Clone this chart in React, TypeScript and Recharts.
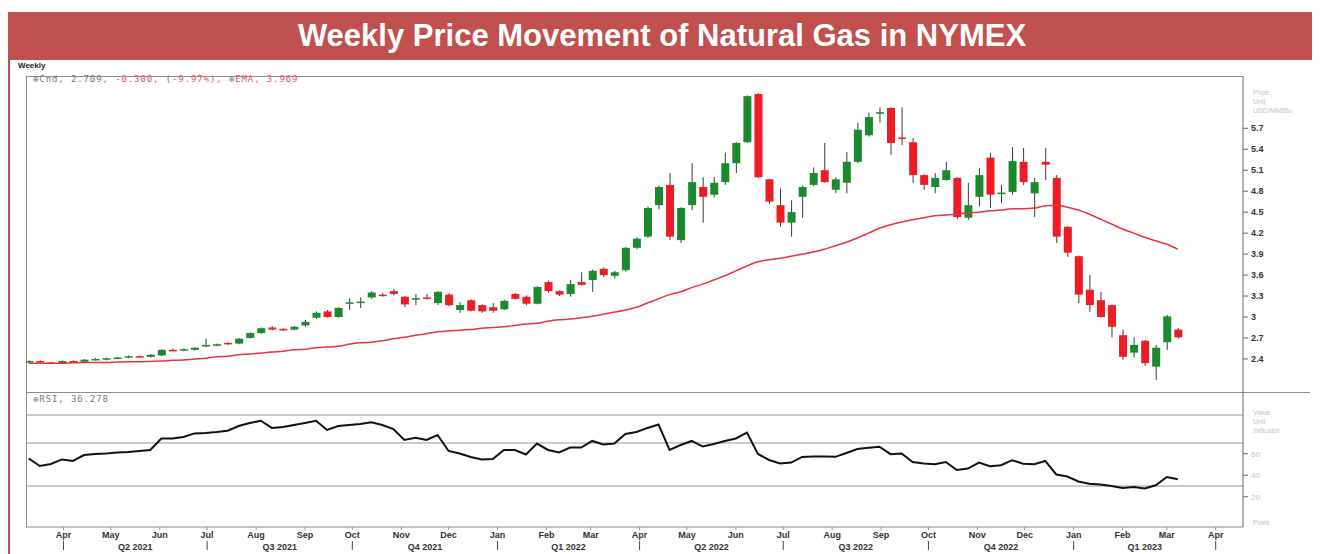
import { ComposedChart, Bar, Line, XAxis, YAxis, ReferenceLine } from 'recharts';

// weekly bars, first bar dated startDate
const startDate = '2021-03-10';

const opens = [
  2.35, 2.37, 2.35, 2.34, 2.37, 2.36, 2.39, 2.40, 2.41, 2.42,
  2.44, 2.43, 2.45, 2.53, 2.52, 2.53, 2.59, 2.60, 2.63, 2.62,
  2.70, 2.77, 2.85, 2.83, 2.82, 2.88, 2.99, 3.08, 3.00, 3.20,
  3.21, 3.28, 3.32, 3.37, 3.29, 3.25, 3.28, 3.20, 3.32, 3.10,
  3.24, 3.17, 3.14, 3.11, 3.33, 3.29, 3.19, 3.50, 3.37, 3.33,
  3.50, 3.53, 3.69, 3.59, 3.67, 3.99, 4.15, 4.60, 4.89, 4.10,
  4.60, 4.86, 4.75, 4.93, 5.20, 5.50, 6.19, 4.97, 4.60, 4.35,
  4.72, 4.89, 5.10, 4.82, 4.92, 5.22, 5.60, 5.91, 5.99, 5.57,
  5.50, 5.03, 4.86, 4.96, 4.99, 4.42, 4.72, 5.28, 4.76, 4.79,
  5.22, 4.77, 5.22, 4.99, 4.29, 3.87, 3.39, 3.24, 3.17, 2.74,
  2.49, 2.66, 2.29, 2.64, 2.82,
];
const highs = [
  2.38, 2.38, 2.36, 2.38, 2.38, 2.40, 2.41, 2.42, 2.43, 2.45,
  2.45, 2.47, 2.54, 2.55, 2.55, 2.57, 2.69, 2.62, 2.64, 2.70,
  2.78, 2.85, 2.87, 2.84, 2.87, 2.96, 3.08, 3.10, 3.14, 3.27,
  3.28, 3.37, 3.34, 3.40, 3.30, 3.33, 3.33, 3.37, 3.34, 3.21,
  3.25, 3.18, 3.20, 3.25, 3.34, 3.31, 3.44, 3.52, 3.38, 3.53,
  3.64, 3.68, 3.71, 3.66, 4.00, 4.14, 4.58, 4.88, 5.06, 4.57,
  5.20, 5.00, 5.00, 5.35, 5.50, 6.17, 6.20, 4.98, 4.84, 4.67,
  4.88, 5.14, 5.49, 5.00, 5.36, 5.78, 5.92, 6.00, 6.00, 6.00,
  5.56, 5.04, 5.06, 5.22, 5.00, 4.92, 5.13, 5.35, 4.89, 5.43,
  5.42, 4.99, 5.42, 5.03, 4.30, 3.88, 3.60, 3.36, 3.18, 2.82,
  2.71, 2.67, 2.60, 3.03, 2.84,
];
const lows = [
  2.34, 2.34, 2.33, 2.33, 2.34, 2.35, 2.38, 2.38, 2.40, 2.41,
  2.42, 2.42, 2.44, 2.51, 2.51, 2.52, 2.57, 2.58, 2.60, 2.61,
  2.69, 2.76, 2.81, 2.80, 2.81, 2.86, 2.97, 2.99, 2.99, 3.10,
  3.13, 3.26, 3.29, 3.31, 3.14, 3.17, 3.25, 3.17, 3.15, 3.06,
  3.08, 3.06, 3.06, 3.10, 3.25, 3.17, 3.18, 3.35, 3.30, 3.29,
  3.45, 3.36, 3.57, 3.55, 3.65, 3.97, 4.13, 4.54, 4.10, 4.06,
  4.53, 4.35, 4.71, 4.89, 5.06, 5.49, 4.99, 4.62, 4.29, 4.15,
  4.42, 4.87, 4.92, 4.77, 4.77, 5.20, 5.58, 5.78, 5.32, 5.46,
  4.92, 4.82, 4.77, 4.95, 4.40, 4.39, 4.58, 4.56, 4.63, 4.75,
  4.89, 4.43, 4.96, 4.06, 3.86, 3.20, 3.07, 2.99, 2.71, 2.39,
  2.42, 2.30, 2.10, 2.53, 2.69,
];
const closes = [
  2.37, 2.35, 2.34, 2.37, 2.36, 2.39, 2.40, 2.41, 2.42, 2.44,
  2.43, 2.46, 2.53, 2.52, 2.54, 2.56, 2.60, 2.61, 2.61, 2.69,
  2.77, 2.84, 2.82, 2.81, 2.86, 2.93, 3.06, 3.00, 3.13, 3.21,
  3.22, 3.35, 3.31, 3.33, 3.18, 3.27, 3.26, 3.36, 3.17, 3.17,
  3.09, 3.08, 3.09, 3.23, 3.26, 3.19, 3.43, 3.37, 3.32, 3.47,
  3.46, 3.66, 3.60, 3.64, 3.99, 4.12, 4.56, 4.86, 4.15, 4.56,
  4.93, 4.72, 4.92, 5.20, 5.49, 6.16, 5.00, 4.65, 4.35, 4.50,
  4.86, 5.06, 4.93, 4.97, 5.22, 5.68, 5.86, 5.93, 5.49, 5.55,
  5.03, 4.89, 4.99, 5.10, 4.43, 4.60, 5.03, 4.75, 4.78, 5.23,
  4.93, 4.93, 5.18, 4.15, 3.92, 3.32, 3.17, 3.00, 2.86, 2.43,
  2.60, 2.34, 2.56, 3.009, 2.709,
];
const ema = [
  2.34, 2.34, 2.34, 2.34, 2.345, 2.35, 2.35, 2.35, 2.355, 2.36,
  2.36, 2.365, 2.37, 2.38, 2.385, 2.40, 2.41, 2.43, 2.44, 2.46,
  2.47, 2.485, 2.50, 2.51, 2.53, 2.54, 2.56, 2.57, 2.58, 2.61,
  2.63, 2.64, 2.66, 2.69, 2.71, 2.74, 2.76, 2.79, 2.80, 2.81,
  2.82, 2.84, 2.85, 2.86, 2.88, 2.90, 2.91, 2.94, 2.96, 2.97,
  2.99, 3.01, 3.04, 3.07, 3.10, 3.14, 3.20, 3.26, 3.32, 3.36,
  3.42, 3.47, 3.53, 3.59, 3.66, 3.73, 3.79, 3.82, 3.84, 3.87,
  3.90, 3.93, 3.97, 4.02, 4.07, 4.13, 4.20, 4.27, 4.32, 4.36,
  4.39, 4.42, 4.45, 4.46, 4.47, 4.49, 4.50, 4.52, 4.53, 4.55,
  4.55, 4.56, 4.59, 4.60, 4.57, 4.53, 4.47, 4.40, 4.33, 4.26,
  4.20, 4.14, 4.09, 4.04, 3.969,
];
const rsi = [
  55.6, 48.6, 50.5, 54.7, 53.3, 58.8, 59.8, 60.2, 61.2, 61.6,
  62.6, 63.5, 74.2, 74.2, 75.6, 78.9, 79.3, 80.2, 81.4, 85.8,
  88.6, 90.7, 84.0, 84.9, 86.7, 88.6, 90.7, 82.1, 85.8, 86.7,
  87.7, 89.2, 86.7, 83.0, 72.8, 74.8, 72.8, 77.4, 62.6, 60.2,
  57.0, 54.7, 55.1, 63.5, 63.5, 59.3, 69.5, 63.5, 61.2, 65.8,
  65.8, 71.9, 68.6, 69.5, 78.4, 80.2, 84.0, 87.2, 63.5, 68.1,
  71.9, 66.7, 69.1, 71.9, 74.2, 79.6, 59.8, 54.2, 50.9, 51.8,
  57.0, 57.5, 57.4, 57.1, 60.7, 64.4, 65.5, 66.5, 59.6, 60.2,
  52.3, 50.9, 50.3, 52.3, 44.9, 46.2, 51.8, 48.4, 49.3, 54.0,
  50.8, 50.3, 53.3, 40.7, 38.8, 34.2, 32.1, 31.4, 30.0, 28.1,
  29.1, 27.7, 30.7, 38.4, 36.278,
];

const monthDates = [
  '2021-04-01', '2021-05-01', '2021-06-01', '2021-07-01', '2021-08-01', '2021-09-01',
  '2021-10-01', '2021-11-01', '2021-12-01', '2022-01-01', '2022-02-01', '2022-03-01',
  '2022-04-01', '2022-05-01', '2022-06-01', '2022-07-01', '2022-08-01', '2022-09-01',
  '2022-10-01', '2022-11-01', '2022-12-01', '2023-01-01', '2023-02-01', '2023-03-01',
  '2023-04-01',
];
const monthNames = [
  'Apr', 'May', 'Jun', 'Jul', 'Aug', 'Sep', 'Oct', 'Nov', 'Dec', 'Jan', 'Feb', 'Mar',
  'Apr', 'May', 'Jun', 'Jul', 'Aug', 'Sep', 'Oct', 'Nov', 'Dec', 'Jan', 'Feb', 'Mar',
  'Apr',
];
const quarterNames = ['Q2 2021', 'Q3 2021', 'Q4 2021', 'Q1 2022', 'Q2 2022', 'Q3 2022', 'Q4 2022', 'Q1 2023'];

const priceTicks = [2.4, 2.7, 3, 3.3, 3.6, 3.9, 4.2, 4.5, 4.8, 5.1, 5.4, 5.7];
const rsiTicks = [20, 40, 60];
const rsiLevels = [30, 70, 96];

const GREEN = '#1b8a2f';
const RED = '#ee1c25';
const FRAME = '#c0504d';

const WEEK = 7 * 24 * 3600 * 1000;
const t0 = Date.parse(startDate);
const wk = (d: string) => (Date.parse(d) - t0) / WEEK;

const data = opens.map((o, i) => ({
  x: i,
  range: [lows[i], highs[i]],
  o, h: highs[i], l: lows[i], c: closes[i],
  ema: ema[i],
  rsi: rsi[i],
}));

const xTicks = [
  ...monthDates.map((d, i) => ({ value: wk(d), label: monthNames[i], kind: 'm', qStart: i % 3 === 0 })),
  ...quarterNames.map((q, i) => ({
    value: (wk(monthDates[i * 3]) + wk(monthDates[i * 3 + 3])) / 2, label: q, kind: 'q', qStart: false,
  })),
];

const X_DOMAIN: [number, number] = [-0.25, 109.9];

function Candle(props: any) {
  const { x, y, width, height, payload } = props;
  if (!payload) return null;
  const { o, h, l, c } = payload;
  const top = Math.min(y, y + height);
  const bot = Math.max(y, y + height);
  const k = h > l ? (bot - top) / (h - l) : 0;
  const py = (v: number) => top + (h - v) * k;
  const cx = x + width / 2;
  const bodyTop = py(Math.max(o, c));
  const bodyH = Math.max(1.5, py(Math.min(o, c)) - bodyTop);
  return (
    <g>
      <line x1={cx} x2={cx} y1={top} y2={bot} stroke="#3a3a3a" strokeWidth={1} />
      <rect x={x} y={bodyTop} width={width} height={bodyH} fill={c >= o ? GREEN : RED} />
    </g>
  );
}

function MonthTick(props: any) {
  const { x, y, payload } = props;
  const t = xTicks.find((tk) => Math.abs(tk.value - payload.value) < 1e-6);
  if (!t) return null;
  const font = { fontFamily: 'Liberation Sans, Arial, sans-serif', fontSize: 9, fontWeight: 700, fill: '#333' };
  if (t.kind === 'q') {
    return <text x={x} y={y + 23} textAnchor="middle" {...font}>{t.label}</text>;
  }
  return (
    <g>
      <line x1={x} x2={x} y1={y} y2={y + 3} stroke="#999" />
      <text x={x} y={y + 11} textAnchor="middle" {...font}>{t.label}</text>
      {t.qStart && <line x1={x} x2={x} y1={y + 14} y2={y + 23} stroke="#444" />}
    </g>
  );
}

const hLine = (left: number, top: number, width: number, color = '#8c8c8c') => (
  <div style={{ position: 'absolute', left, top, width, height: 1, background: color }} />
);

export default function App() {
  const faint = { position: 'absolute' as const, fontSize: 7, color: '#c4c4c4', lineHeight: '9px' };
  return (
    <div style={{ position: 'relative', width: 1312, height: 546, fontFamily: 'Liberation Sans, Arial, sans-serif' }}>
      {/* red frame + title */}
      <div style={{
        position: 'absolute', left: 0, top: 4, width: 1308, height: 600, boxSizing: 'border-box',
        borderLeft: `2px solid ${FRAME}`, borderRight: `3px solid ${FRAME}`, background: '#fff',
      }} />
      <div style={{
        position: 'absolute', left: 0, top: 4, width: 1308, height: 48, background: FRAME, color: '#fff',
        fontWeight: 700, fontSize: 31, lineHeight: '48px', textAlign: 'center',
      }}>
        Weekly Price Movement of Natural Gas in NYMEX
      </div>

      <div style={{ position: 'absolute', left: 10, top: 53, fontSize: 8, fontWeight: 700, color: '#222' }}>Weekly</div>

      {/* panel borders */}
      {hLine(18, 68, 1217)}
      <div style={{ position: 'absolute', left: 18, top: 68, width: 1, height: 451, background: '#8c8c8c' }} />
      {hLine(18, 384, 1284)}

      <div style={{
        position: 'absolute', left: 25, top: 66, fontFamily: 'DejaVu Sans Mono, monospace', fontSize: 9,
        letterSpacing: 0.9, whiteSpace: 'nowrap',
      }}>
        <span style={{ color: '#777' }}>⊕Cnd, 2.709, </span>
        <span style={{ color: '#e8506a' }}>-0.300, (-9.97%), </span>
        <span style={{ color: '#777' }}>⊕</span>
        <span style={{ color: '#e8506a' }}>EMA, 3.969</span>
      </div>
      <div style={{
        position: 'absolute', left: 25, top: 386, fontFamily: 'DejaVu Sans Mono, monospace', fontSize: 9,
        letterSpacing: 0.9, color: '#777', whiteSpace: 'nowrap',
      }}>
        ⊕RSI, 36.278
      </div>

      <div style={{ ...faint, left: 1245, top: 80 }}>Price<br />Unit<br />USD/MMBtu</div>
      <div style={{ ...faint, left: 1245, top: 400 }}>Value<br />Unit<br />Indicator</div>
      <div style={{ ...faint, left: 1245, top: 510 }}>Point</div>

      {/* price panel */}
      <div style={{ position: 'absolute', left: 18, top: 68 }}>
        <ComposedChart width={1287} height={316} data={data} margin={{ top: 0, right: 0, bottom: 0, left: 0 }}>
          <XAxis dataKey="x" type="number" domain={X_DOMAIN} allowDataOverflow hide />
          <YAxis
            orientation="right"
            width={70}
            domain={[1.927, 6.448]}
            allowDataOverflow
            ticks={priceTicks}
            interval={0}
            tickSize={5}
            tickMargin={3}
            stroke="#666"
            tick={{ fill: '#333', fontSize: 9, fontWeight: 700, textAnchor: 'start' }}
          />
          <Bar dataKey="range" barSize={8} shape={<Candle />} isAnimationActive={false} />
          <Line type="monotone" dataKey="ema" stroke="#e8343a" strokeWidth={1.5} dot={false} isAnimationActive={false} />
        </ComposedChart>
      </div>

      {/* RSI panel */}
      <div style={{ position: 'absolute', left: 18, top: 384 }}>
        <ComposedChart width={1287} height={162} data={data} margin={{ top: 0, right: 0, bottom: 0, left: 0 }}>
          <XAxis
            dataKey="x"
            type="number"
            domain={X_DOMAIN}
            allowDataOverflow
            ticks={xTicks.map((t) => t.value)}
            interval={0}
            height={27}
            tickSize={0}
            tickMargin={0}
            tickLine={false}
            stroke="#8c8c8c"
            tick={<MonthTick />}
          />
          <YAxis
            orientation="right"
            width={70}
            domain={[-8.1, 117.4]}
            allowDataOverflow
            ticks={rsiTicks}
            interval={0}
            tickSize={5}
            tickMargin={3}
            stroke="#666"
            tick={{ fill: '#c4c4c4', fontSize: 8, textAnchor: 'start' }}
          />
          {rsiLevels.map((v) => (
            <ReferenceLine key={v} y={v} stroke="#9a9a9a" strokeWidth={1} />
          ))}
          <Line type="linear" dataKey="rsi" stroke="#111" strokeWidth={2} dot={false} isAnimationActive={false} />
        </ComposedChart>
      </div>
    </div>
  );
}
